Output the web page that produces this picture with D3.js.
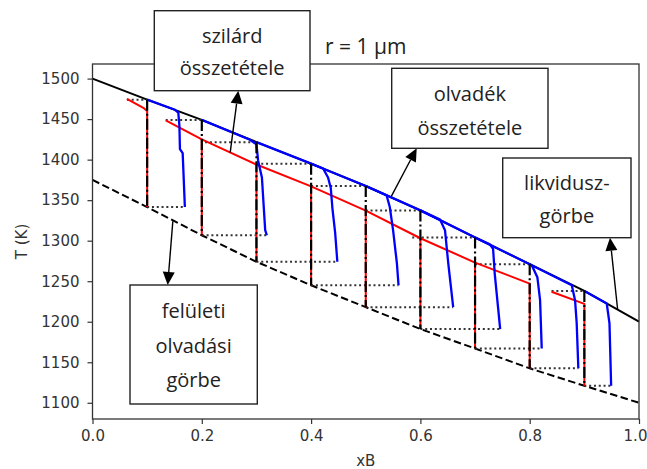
<!DOCTYPE html>
<html><head><meta charset="utf-8">
<script src="https://cdn.jsdelivr.net/npm/d3@7"></script>
<style>body{margin:0;background:#fff}</style>
</head><body>
<svg id="c" width="647" height="469"></svg>
<script>
// ---------- data ----------
const xTicks = [0.0, 0.2, 0.4, 0.6, 0.8, 1.0];
const yTicks = [1100, 1150, 1200, 1250, 1300, 1350, 1400, 1450, 1500];
const gridX = [0, 0.1, 0.2, 0.3, 0.4, 0.5, 0.6, 0.7, 0.8, 0.9, 1.0];
const liquidusT = [1500, 1474, 1449, 1421.6, 1395, 1367.5, 1337.4, 1304, 1271, 1238, 1200];
const surfaceT  = [1375, 1341.5, 1306.7, 1274, 1245, 1218, 1191, 1167, 1142.5, 1121, 1100];
const stepX       = [0.1, 0.2, 0.3, 0.4, 0.5, 0.6, 0.7, 0.8, 0.9];
const stepTopT    = [1474, 1449, 1421.6, 1395, 1367.5, 1337.4, 1304, 1271, 1238];
const stepBottomT = [1341.5, 1306.7, 1274, 1245, 1218, 1191, 1167, 1142.5, 1121];
const topDotFrom  = [0.063, 0.134, 0.206, 0.3, 0.4, 0.5, 0.585, 0.7, 0.84];
const bottomDotTo = [0.169, 0.319, 0.448, 0.56, 0.66, 0.746, 0.822, 0.889, 0.949];
const solidPaths = [
  [[0.063,1475],[0.093,1464],[0.1,1460],[0.1,1341.5]],
  [[0.134,1448.5],[0.2,1425],[0.2,1306.7]],
  [[0.2,1425],[0.3,1394],[0.3,1274]],
  [[0.3,1394],[0.4,1367],[0.4,1245]],
  [[0.4,1367],[0.5,1337],[0.5,1218]],
  [[0.5,1337],[0.6,1303],[0.6,1191]],
  [[0.6,1303],[0.7,1273],[0.7,1167]],
  [[0.7,1273],[0.8,1247],[0.8,1142.5]],
  [[0.84,1237],[0.9,1222],[0.9,1121]]
];
const meltPaths = [
  [[0.1,1474],[0.151,1461.5],[0.157,1458],[0.159,1442],[0.160,1413],[0.165,1408],[0.169,1341.5]],
  [[0.2,1449],[0.288,1424.5],[0.3,1419],[0.303,1399],[0.31,1378],[0.316,1313],[0.319,1306.7]],
  [[0.3,1421.6],[0.4,1395],[0.422,1389],[0.431,1378],[0.436,1365],[0.439,1340],[0.444,1310],[0.448,1274]],
  [[0.4,1395],[0.5,1367.5],[0.538,1356],[0.544,1341.5],[0.55,1313],[0.557,1272],[0.56,1245]],
  [[0.5,1367.5],[0.6,1337.4],[0.636,1326],[0.645,1313],[0.651,1272],[0.66,1218]],
  [[0.6,1337.4],[0.7,1304],[0.727,1295.5],[0.733,1290],[0.736,1259.5],[0.746,1191]],
  [[0.7,1304],[0.8,1271],[0.804,1269.5],[0.814,1255],[0.819,1226.6],[0.822,1167]],
  [[0.8,1271],[0.877,1245],[0.883,1226.6],[0.886,1198],[0.889,1142.5]],
  [[0.9,1238],[0.941,1222.5],[0.946,1198],[0.949,1121]]
];
const titleText = "r = 1 μm";
const xLabel = "xB";
const yLabel = "T (K)";
const noteTexts = [["szilárd","összetétele"],["olvadék","összetétele"],["likvidusz-","görbe"],["felületi","olvadási","görbe"]];
const noteTargets = [[0.252,1409],[0.547,1355],[0.961,1214.5],[0.147,1324]];

// ---------- layout ----------
const svg = d3.select("#c");
const X0 = 92.5, X1 = 639, YT = 64, YB = 419;
const x = d3.scaleLinear().domain([0,1]).range([X0,X1]);
const y = d3.scaleLinear().domain([1080,1518]).range([YB,YT]);
const line = d3.line().x(d => x(d[0])).y(d => y(d[1]));
const axisFont = "DejaVu Sans", noteFont = "Open Sans";

const plot = svg.append("g");
// surface melting curve (dashed)
plot.append("path").datum(gridX.map((v,i)=>[v,surfaceT[i]]))
  .attr("d", line).attr("fill","none").attr("stroke","#000")
  .attr("stroke-width",2).attr("stroke-dasharray","7.5,3.5");
// liquidus
plot.append("path").datum(gridX.map((v,i)=>[v,liquidusT[i]]))
  .attr("d", line).attr("fill","none").attr("stroke","#000").attr("stroke-width",2);
// dotted horizontal lines
stepX.forEach((x0,i)=>{
  plot.append("path").datum([[topDotFrom[i],stepTopT[i]],[x0,stepTopT[i]]])
    .attr("d",line).attr("fill","none").attr("stroke","#333").attr("stroke-width",2).attr("stroke-dasharray","2,2.8");
  plot.append("path").datum([[x0,stepBottomT[i]],[bottomDotTo[i],stepBottomT[i]]])
    .attr("d",line).attr("fill","none").attr("stroke","#333").attr("stroke-width",2).attr("stroke-dasharray","2,2.8");
});
// solid composition (red)
solidPaths.forEach(p=>{
  plot.append("path").datum(p).attr("d",line).attr("fill","none")
    .attr("stroke","#ff0000").attr("stroke-width",2).attr("stroke-linejoin","round");
});
// melt composition (blue)
meltPaths.forEach(p=>{
  plot.append("path").datum(p).attr("d",line).attr("fill","none")
    .attr("stroke","#0000ff").attr("stroke-width",2.3).attr("stroke-linejoin","round");
});
// vertical dash-dot lines
stepX.forEach((x0,i)=>{
  plot.append("path").datum([[x0,stepTopT[i]],[x0,stepBottomT[i]]])
    .attr("d",line).attr("fill","none").attr("stroke","#000").attr("stroke-width",2.2)
    .attr("stroke-dasharray","11,3,2,3");
});

// axes
const gy = svg.append("g").attr("transform",`translate(${X0},0)`)
  .call(d3.axisLeft(y).tickValues(yTicks).tickSize(5).tickPadding(8).tickFormat(d3.format("d")));
const gx = svg.append("g").attr("transform",`translate(0,${YB})`)
  .call(d3.axisBottom(x).tickValues(xTicks).tickSize(5).tickPadding(6).tickFormat(d3.format(".1f")));
[gx,gy].forEach(g=>{
  g.select(".domain").remove();
  g.selectAll("line").attr("stroke","#333").attr("stroke-width",1.2);
  g.selectAll("text").attr("font-family",axisFont).attr("font-size",15).attr("fill","#333");
});
// keep last x tick label inside the picture
gx.selectAll(".tick text").filter(d => d === 1).attr("dx", -4);
svg.append("rect").attr("x",X0).attr("y",YT).attr("width",X1-X0).attr("height",YB-YT)
  .attr("fill","none").attr("stroke","#333").attr("stroke-width",1.3);

svg.append("text").attr("x",(X0+X1)/2).attr("y",466).attr("text-anchor","middle")
  .attr("font-family",axisFont).attr("font-size",15).attr("fill","#333").text(xLabel);
svg.append("text").attr("transform",`translate(27,${(YT+YB)/2}) rotate(-90)`).attr("text-anchor","middle")
  .attr("font-family",axisFont).attr("font-size",15).attr("fill","#333").text(yLabel);
svg.append("text").attr("x",(X0+X1)/2).attr("y",53.5).attr("text-anchor","middle")
  .attr("font-family",noteFont).attr("font-size",21).attr("fill","#222").text(titleText);

// annotation boxes
const boxes = [
  {x:154.3,y:10.7,w:155.7,h:80,base:[43,75],tip:[238.3,90.7]},
  {x:391.7,y:68.3,w:156.3,h:80,base:[101,135],tip:[416.7,148.3]},
  {x:502.7,y:158,w:128.3,h:79.7,base:[190,223],tip:[610,237.7]},
  {x:130,y:285,w:127.3,h:119,base:[318,353,387],tip:[167.7,285]}
];
boxes.forEach((b,i)=>{
  const t = noteTargets[i];
  const sx = x(t[0]), sy = y(t[1]);
  const [ex,ey] = b.tip;
  const dx = ex-sx, dy = ey-sy, L = Math.hypot(dx,dy), ux = dx/L, uy = dy/L;
  const hl = 13, hw = 6;
  const bx = ex-ux*hl, by = ey-uy*hl;
  svg.append("line").attr("x1",sx).attr("y1",sy).attr("x2",bx).attr("y2",by)
    .attr("stroke","#000").attr("stroke-width",1.4);
  svg.append("path").attr("d",`M${ex},${ey}L${bx-uy*hw},${by+ux*hw}L${bx+uy*hw},${by-ux*hw}Z`).attr("fill","#000");
  svg.append("rect").attr("x",b.x).attr("y",b.y).attr("width",b.w).attr("height",b.h)
    .attr("fill","#fff").attr("stroke","#222").attr("stroke-width",1.4);
  noteTexts[i].forEach((s,j)=>{
    svg.append("text").attr("x",b.x+b.w/2).attr("y",b.base[j]).attr("text-anchor","middle")
      .attr("font-family",noteFont).attr("font-size",20).attr("fill","#222").text(s);
  });
});
</script>
</body></html>
